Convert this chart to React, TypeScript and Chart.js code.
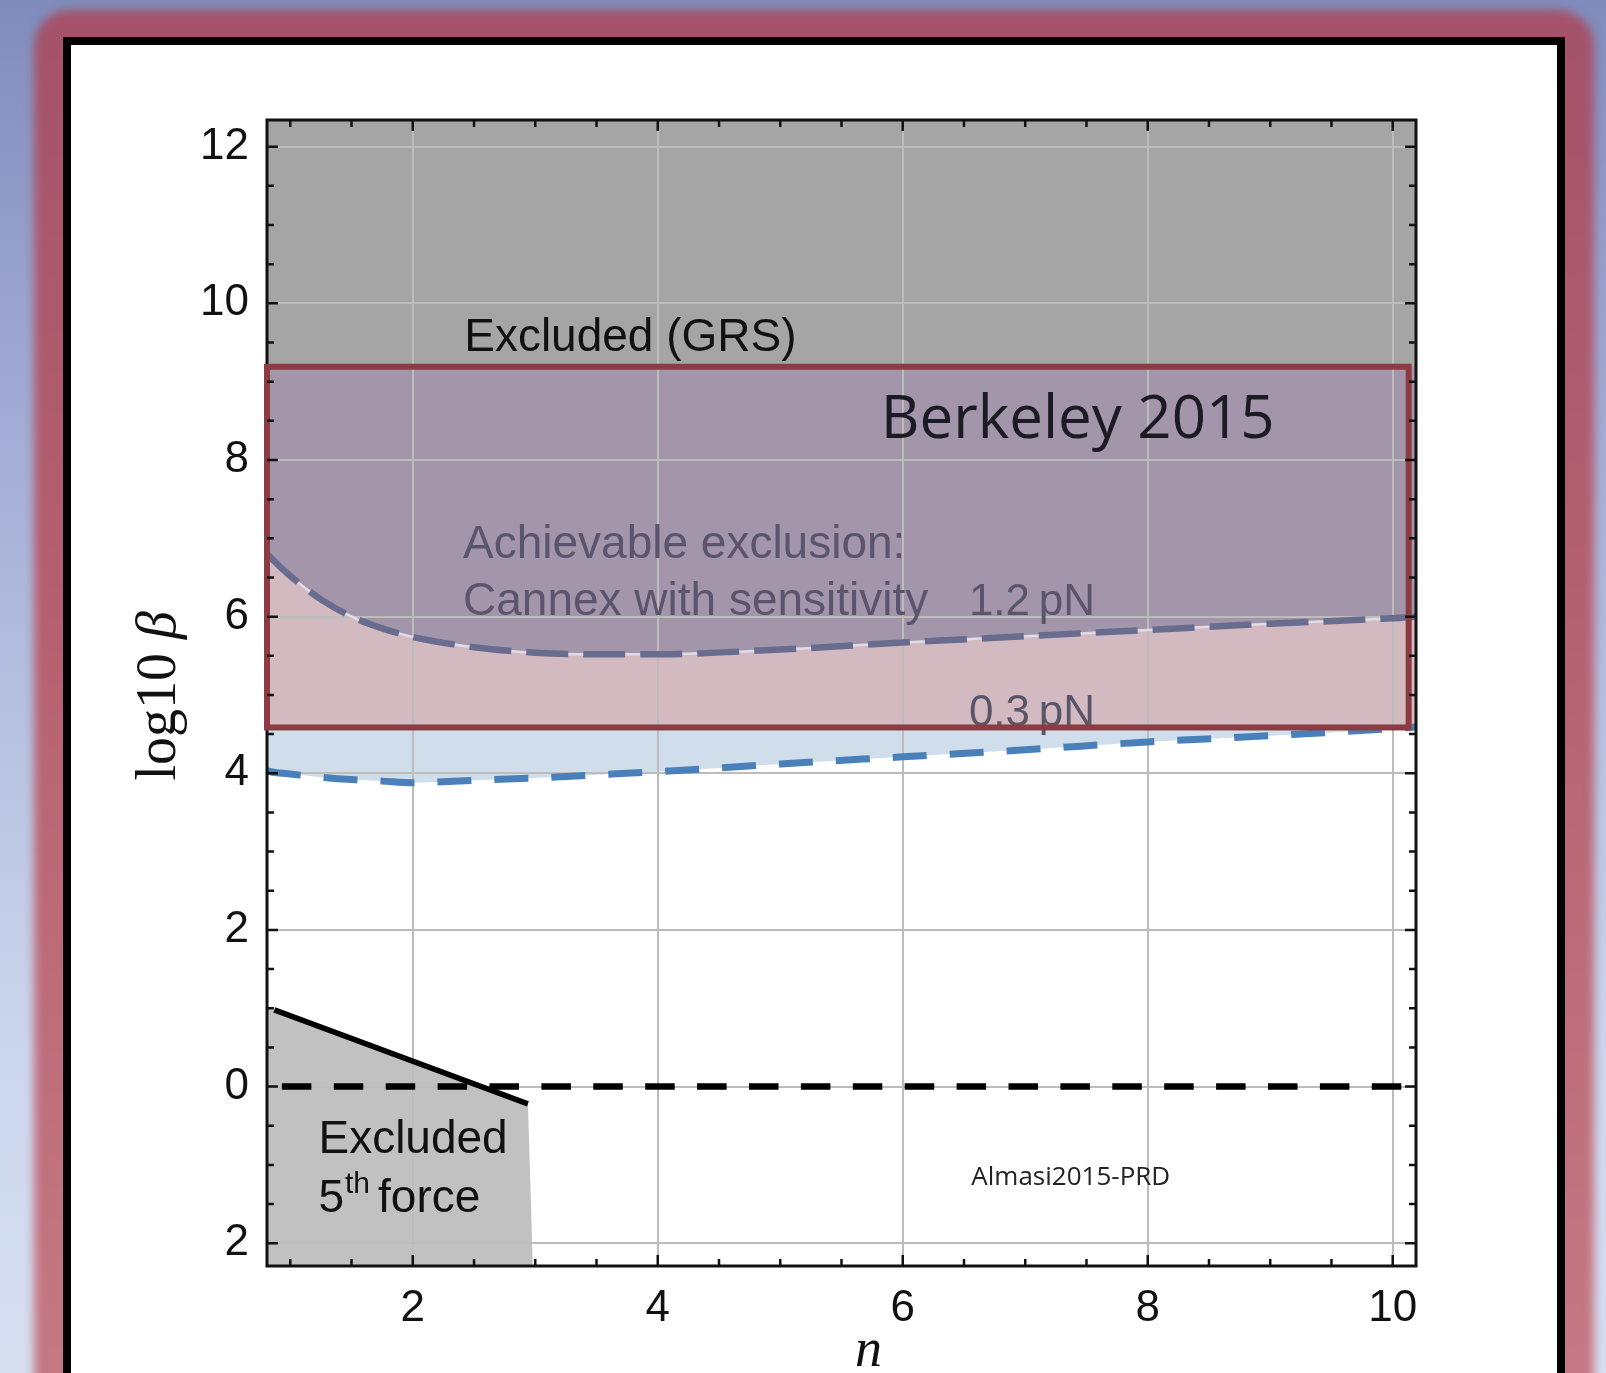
import React, { useEffect, useRef } from "react";
import { Chart, registerables } from "chart.js";

Chart.register(...registerables);

// ---------- data ----------
const nGrid = [0.81, 0.875, 1.0, 1.25, 1.5, 1.75, 2.0, 2.5, 3.0, 3.5, 4.0, 5.0, 6.0, 7.0, 8.0, 9.0, 10.0, 10.19];
const logBeta12pN = [6.8, 6.7, 6.52, 6.22, 6.0, 5.85, 5.74, 5.61, 5.54, 5.52, 5.52, 5.58, 5.67, 5.75, 5.83, 5.91, 5.98, 6.0];
const logBeta03pN = [4.03, 4.01, 3.99, 3.95, 3.92, 3.9, 3.88, 3.91, 3.94, 3.98, 4.02, 4.12, 4.21, 4.3, 4.4, 4.48, 4.57, 4.59];

const fifthForceN = [0.81, 2.94, 2.98];
const fifthForceLog = [1.01, -0.22, -2.29];
const fifthLineN = [0.87, 2.94];
const fifthLineLog = [0.98, -0.22];

const zeroLineN = [0.81, 10.19];
const zeroLineLog = [0, 0];

const berkeleyN = [0.81, 10.13];
const berkeleyLog = [4.585, 9.19];

const xRange = [0.81, 10.19];
const yRange = [-2.29, 12.34];
const xTickValues = [2, 4, 6, 8, 10];
const xTickLabels = ["2", "4", "6", "8", "10"];
const yTickValues = [-2, 0, 2, 4, 6, 8, 10, 12];
const yTickLabels = ["2", "0", "2", "4", "6", "8", "10", "12"];

// ---------- styling ----------
const FONT_SANS = '"Liberation Sans", Arial, Helvetica, sans-serif';
const FONT_OPEN = '"Open Sans", "Noto Sans", sans-serif';
const FONT_SERIF = '"Liberation Serif", "DejaVu Serif", serif';

const pts = (xs: number[], ys: number[]) => xs.map((x, i) => ({ x, y: ys[i] }));

const overlayPlugin = {
  id: "overlayPlugin",
  afterDraw(chart: any) {
    const { ctx, chartArea: a } = chart;
    const xs = chart.scales.x;
    const ys = chart.scales.y;
    const px = (v: number) => xs.getPixelForValue(v);
    const py = (v: number) => ys.getPixelForValue(v);
    ctx.save();

    const text = (s: string, xv: number, yv: number, font: string, color: string) => {
      ctx.font = font;
      ctx.fillStyle = color;
      ctx.textAlign = "left";
      ctx.textBaseline = "alphabetic";
      ctx.fillText(s, px(xv), py(yv));
    };

    text("Excluded (GRS)", 2.42, 9.39, `46px ${FONT_SANS}`, "#111111");
    text("Berkeley 2015", 5.82, 8.28, `60px ${FONT_OPEN}`, "#1c1a22");
    text("Achievable exclusion:", 2.41, 6.75, `46px ${FONT_SANS}`, "#5a556c");
    text("Cannex with sensitivity", 2.41, 6.02, `46px ${FONT_SANS}`, "#5a556c");
    text("1.2\u2009pN", 6.54, 6.02, `44px ${FONT_SANS}`, "#5a556c");
    text("0.3\u2009pN", 6.54, 4.61, `44px ${FONT_SANS}`, "#5a5668");
    text("Excluded", 1.23, -0.85, `46px ${FONT_SANS}`, "#111111");
    text("Almasi2015-PRD", 6.56, -1.25, `26px ${FONT_OPEN}`, "#222222");

    // 5th force with superscript
    {
      let x0 = px(1.23);
      const yb = py(-1.6);
      ctx.fillStyle = "#111111";
      ctx.font = `46px ${FONT_SANS}`;
      ctx.fillText("5", x0, yb);
      x0 += ctx.measureText("5").width + 1;
      ctx.font = `30px ${FONT_SANS}`;
      ctx.fillText("th", x0, yb - 19);
      x0 += ctx.measureText("th").width;
      ctx.font = `46px ${FONT_SANS}`;
      ctx.fillText("force", x0 + 8, yb);
    }

    // axis titles
    {
      ctx.save();
      ctx.translate(a.left - 92, py(4.99));
      ctx.rotate(-Math.PI / 2);
      ctx.fillStyle = "#111111";
      ctx.font = `56px ${FONT_SERIF}`;
      const w1 = ctx.measureText("log10 ").width;
      ctx.font = `italic 56px ${FONT_SERIF}`;
      const w2 = ctx.measureText("\u03b2").width;
      const start = -(w1 + w2) / 2;
      ctx.textAlign = "left";
      ctx.font = `56px ${FONT_SERIF}`;
      ctx.fillText("log10 ", start, 0);
      ctx.font = `italic 56px ${FONT_SERIF}`;
      ctx.fillText("\u03b2", start + w1, 0);
      ctx.restore();

      ctx.font = `italic 54px ${FONT_SERIF}`;
      ctx.textAlign = "center";
      ctx.fillStyle = "#111111";
      ctx.fillText("n", px(5.72), a.bottom + 100);
    }

    // plot frame
    ctx.strokeStyle = "#111111";
    ctx.lineWidth = 3;
    ctx.strokeRect(a.left, a.top, a.right - a.left, a.bottom - a.top);

    // Berkeley 2015 rectangle
    ctx.strokeStyle = "#8c3b42";
    ctx.lineWidth = 6;
    const rx0 = px(berkeleyN[0]);
    const rx1 = px(berkeleyN[1]);
    const ry0 = py(berkeleyLog[1]);
    const ry1 = py(berkeleyLog[0]);
    ctx.strokeRect(rx0, ry0, rx1 - rx0, ry1 - ry0);

    // inward ticks on all four sides
    ctx.strokeStyle = "#111111";
    ctx.lineWidth = 2.5;
    ctx.beginPath();
    for (let k = 2; k <= 20; k++) {
      const v = k * 0.5;
      const len = v % 2 === 0 ? 11 : 7;
      const x = px(v);
      if (x < a.left || x > a.right) continue;
      ctx.moveTo(x, a.bottom);
      ctx.lineTo(x, a.bottom - len);
      ctx.moveTo(x, a.top);
      ctx.lineTo(x, a.top + len);
    }
    for (let k = -4; k <= 24; k++) {
      const v = k * 0.5;
      const len = v % 2 === 0 ? 11 : 7;
      const y = py(v);
      if (y < a.top || y > a.bottom) continue;
      ctx.moveTo(a.left, y);
      ctx.lineTo(a.left + len, y);
      ctx.moveTo(a.right, y);
      ctx.lineTo(a.right - len, y);
    }
    ctx.stroke();
    ctx.restore();
  },
};

export default function App() {
  const ref = useRef<HTMLCanvasElement>(null);

  useEffect(() => {
    const canvas = ref.current;
    if (!canvas) return;

    const bandFill = (above: string, below: string, splitValue: number) => (c: any) => {
      const chart = c.chart;
      const area = chart.chartArea;
      const ys = chart.scales && chart.scales.y;
      if (!area || !ys) return below;
      const p = ys.getPixelForValue(splitValue);
      const f = Math.min(1, Math.max(0, (p - area.top) / (area.bottom - area.top)));
      const g = chart.ctx.createLinearGradient(0, area.top, 0, area.bottom);
      g.addColorStop(0, above);
      g.addColorStop(f, above);
      g.addColorStop(f, below);
      g.addColorStop(1, below);
      return g;
    };

    const chart = new Chart(canvas, {
      type: "line",
      data: {
        datasets: [
          {
            label: "zero",
            data: pts(zeroLineN, zeroLineLog),
            borderColor: "#000000",
            borderWidth: 6.5,
            borderDash: [29.5, 22.4],
            borderDashOffset: 37,
            borderCapStyle: "butt",
            pointRadius: 0,
            fill: false,
          },
          {
            label: "fifth force line",
            data: pts(fifthLineN, fifthLineLog),
            borderColor: "#000000",
            borderWidth: 5.5,
            pointRadius: 0,
            fill: false,
          },
          {
            label: "1.2 pN",
            data: pts(nGrid, logBeta12pN),
            borderColor: "#686c8f",
            borderWidth: 6.5,
            borderDash: [42, 15],
            borderCapStyle: "butt",
            pointRadius: 0,
            cubicInterpolationMode: "monotone",
            fill: "end",
            backgroundColor: bandFill("#a5a5a5", "#a396aa", berkeleyLog[1]),
          },
          {
            label: "0.3 pN",
            data: pts(nGrid, logBeta03pN),
            borderColor: "#4a80b9",
            borderWidth: 7,
            borderDash: [34, 23],
            borderCapStyle: "butt",
            pointRadius: 0,
            cubicInterpolationMode: "monotone",
            fill: { target: 2 },
            backgroundColor: bandFill("#d3bac1", "#cfdeea", berkeleyLog[0]),
          },
          {
            label: "1.2 pN halo",
            data: pts(nGrid, logBeta12pN),
            borderColor: "rgba(232,228,240,0.85)",
            borderWidth: 2.5,
            pointRadius: 0,
            cubicInterpolationMode: "monotone",
            fill: false,
          },
          {
            label: "fifth force region",
            data: pts(fifthForceN, fifthForceLog),
            borderWidth: 0,
            borderColor: "rgba(0,0,0,0)",
            pointRadius: 0,
            fill: "start",
            backgroundColor: "#c1c1c1",
          },
        ],
      },
      options: {
        responsive: false,
        animation: false,
        devicePixelRatio: 1,
        layout: { padding: { top: 120, right: 190, bottom: 0, left: 0 } },
        plugins: {
          legend: { display: false },
          tooltip: { enabled: false },
          filler: { drawTime: "beforeDraw" },
        },
        scales: {
          x: {
            type: "linear",
            min: xRange[0],
            max: xRange[1],
            afterBuildTicks: (s: any) => {
              s.ticks = xTickValues.map((v) => ({ value: v }));
            },
            afterFit: (s: any) => {
              s.height = 107;
            },
            ticks: {
              autoSkip: false,
              maxRotation: 0,
              padding: 16,
              color: "#111111",
              font: { family: FONT_SANS, size: 44 },
              callback: (v: any) => {
                const i = xTickValues.indexOf(Number(v));
                return i >= 0 ? xTickLabels[i] : "";
              },
            },
            grid: { color: "#bcbcbc", lineWidth: 2, drawTicks: false },
            border: { display: false },
          },
          y: {
            type: "linear",
            min: yRange[0],
            max: yRange[1],
            afterBuildTicks: (s: any) => {
              s.ticks = yTickValues.map((v) => ({ value: v }));
            },
            afterFit: (s: any) => {
              s.width = 267;
            },
            ticks: {
              autoSkip: false,
              padding: 18,
              color: "#111111",
              font: { family: FONT_SANS, size: 44 },
              callback: (v: any) => {
                const i = yTickValues.indexOf(Number(v));
                return i >= 0 ? yTickLabels[i] : "";
              },
            },
            grid: { color: "#bcbcbc", lineWidth: 2, drawTicks: false },
            border: { display: false },
          },
        },
      },
      plugins: [overlayPlugin],
    } as any);

    return () => chart.destroy();
  }, []);

  return (
    <div
      style={{
        position: "fixed",
        left: 0,
        top: 0,
        width: 1606,
        height: 1373,
        overflow: "hidden",
        background:
          "linear-gradient(180deg, #7f8cbc 0%, #9aa3cf 22%, #b4bfe0 50%, #cdd7ee 78%, #d6dff0 100%)",
      }}
    >
      <div
        style={{
          position: "absolute",
          left: 34,
          top: 10,
          width: 1560,
          height: 1420,
          borderRadius: 36,
          background: "linear-gradient(180deg, #a4526a 0%, #b45f6f 40%, #c67a85 100%)",
          filter: "blur(5px)",
        }}
      />
      <div
        style={{
          position: "absolute",
          left: 63,
          top: 37,
          width: 1502,
          height: 1400,
          boxSizing: "border-box",
          background: "#ffffff",
          border: "8px solid #000000",
        }}
      />
      <canvas
        ref={ref}
        width={1606}
        height={1373}
        style={{ position: "absolute", left: 0, top: 0, width: 1606, height: 1373 }}
      />
    </div>
  );
}
